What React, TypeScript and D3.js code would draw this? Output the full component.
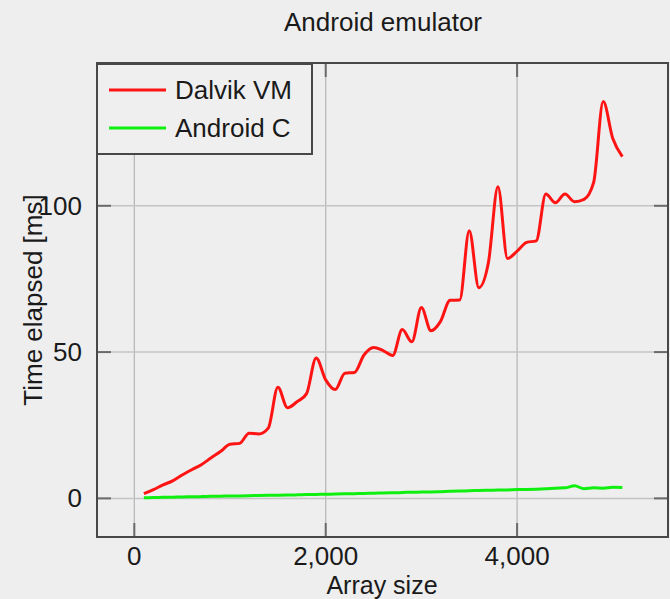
import React, { useRef, useEffect } from 'react';
import * as d3 from 'd3';

// array sizes (x) and timings in ms
const arraySizes = [
  100, 200, 300, 400, 500, 600, 700, 800, 900, 1000,
  1100, 1200, 1300, 1400, 1500, 1600, 1700, 1800, 1900, 2000,
  2100, 2200, 2300, 2400, 2500, 2600, 2700, 2800, 2900, 3000,
  3100, 3200, 3300, 3400, 3500, 3600, 3700, 3800, 3900, 4000,
  4100, 4200, 4300, 4400, 4500, 4600, 4700, 4800, 4900, 5000, 5100,
];

const dalvikVM = [
  1.6, 3.0, 4.6, 6.0, 8.0, 9.8, 11.5, 13.8, 16.0, 18.5,
  18.8, 22.3, 22.0, 24.0, 38.0, 31.0, 33.0, 35.8, 48.0, 40.5,
  37.2, 42.8, 43.0, 49.0, 51.6, 50.5, 48.8, 57.7, 53.5, 65.2,
  57.3, 60.5, 67.7, 67.8, 91.5, 72.0, 80.5, 106.5, 82.0, 84.5,
  87.5, 88.0, 104.0, 101.0, 104.0, 101.4, 102.2, 108.0, 135.6, 123.0, 116.8,
];

const androidC = [
  0.2, 0.3, 0.35, 0.4, 0.5, 0.55, 0.6, 0.7, 0.75, 0.8,
  0.85, 0.9, 1.0, 1.05, 1.1, 1.15, 1.2, 1.3, 1.35, 1.4,
  1.5, 1.55, 1.6, 1.7, 1.75, 1.85, 1.9, 2.0, 2.1, 2.15,
  2.2, 2.3, 2.4, 2.5, 2.6, 2.7, 2.75, 2.85, 2.9, 3.0,
  3.05, 3.15, 3.3, 3.5, 3.6, 4.3, 3.3, 3.6, 3.5, 3.8, 3.7,
];

const xTicks = [0, 2000, 4000];
const yTicks = [0, 50, 100];

const series = [
  { name: 'Dalvik VM', values: dalvikVM, color: '#ff1414' },
  { name: 'Android C', values: androidC, color: '#10f010' },
];

const W = 670;
const H = 599;
const FONT = '"Liberation Sans", Arial, Helvetica, sans-serif';

const App = () => {
  const ref = useRef<SVGSVGElement>(null);

  useEffect(() => {
    const svg = d3.select(ref.current);
    svg.selectAll('*').remove();

    const plot = { left: 97, right: 668, top: 63, bottom: 537 };

    const x = d3.scaleLinear().domain([-390, 5577]).range([plot.left, plot.right]);
    const y = d3.scaleLinear().domain([-13.2, 148.8]).range([plot.bottom, plot.top]);

    svg.append('rect')
      .attr('width', W)
      .attr('height', H)
      .attr('fill', '#eeeeee');

    // grid
    svg.append('g')
      .selectAll('line')
      .data(xTicks)
      .join('line')
      .attr('x1', d => x(d)).attr('x2', d => x(d))
      .attr('y1', plot.top).attr('y2', plot.bottom)
      .attr('stroke', '#b4b4b4')
      .attr('stroke-width', 1.2);

    svg.append('g')
      .selectAll('line')
      .data(yTicks)
      .join('line')
      .attr('x1', plot.left).attr('x2', plot.right)
      .attr('y1', d => y(d)).attr('y2', d => y(d))
      .attr('stroke', '#c4c4c4')
      .attr('stroke-width', 1.5);

    // inward ticks on all four sides
    const tickLen = 14;
    const ticks = svg.append('g').attr('stroke', '#6a6a6a').attr('stroke-width', 2);
    xTicks.forEach(t => {
      ticks.append('line').attr('x1', x(t)).attr('x2', x(t))
        .attr('y1', plot.bottom).attr('y2', plot.bottom - tickLen);
      ticks.append('line').attr('x1', x(t)).attr('x2', x(t))
        .attr('y1', plot.top).attr('y2', plot.top + tickLen);
    });
    yTicks.forEach(t => {
      ticks.append('line').attr('x1', plot.left).attr('x2', plot.left + tickLen)
        .attr('y1', y(t)).attr('y2', y(t));
      ticks.append('line').attr('x1', plot.right).attr('x2', plot.right - tickLen)
        .attr('y1', y(t)).attr('y2', y(t));
    });

    // lines
    const line = d3.line<number>()
      .x((_, i) => x(arraySizes[i]))
      .y(d => y(d))
      .curve(d3.curveMonotoneX);

    series.slice().reverse().forEach(s => {
      svg.append('path')
        .datum(s.values)
        .attr('fill', 'none')
        .attr('stroke', s.color)
        .attr('stroke-width', 3)
        .attr('stroke-linejoin', 'round')
        .attr('d', line);
    });

    // frame
    svg.append('rect')
      .attr('x', plot.left)
      .attr('y', plot.top)
      .attr('width', plot.right - plot.left)
      .attr('height', plot.bottom - plot.top)
      .attr('fill', 'none')
      .attr('stroke', '#484848')
      .attr('stroke-width', 2);

    // tick labels
    svg.append('g')
      .selectAll('text')
      .data(xTicks)
      .join('text')
      .attr('x', d => x(d))
      .attr('y', 565)
      .attr('text-anchor', 'middle')
      .text(d => d3.format(',')(d));

    svg.append('g')
      .selectAll('text')
      .data(yTicks)
      .join('text')
      .attr('x', 82)
      .attr('y', d => y(d))
      .attr('dy', '0.35em')
      .attr('text-anchor', 'end')
      .text(d => d3.format(',')(d));

    // titles
    svg.append('text')
      .attr('x', 383)
      .attr('y', 31)
      .attr('text-anchor', 'middle')
      .text('Android emulator');

    svg.append('text')
      .attr('class', 'xlabel')
      .attr('x', 382)
      .attr('y', 593.5)
      .attr('text-anchor', 'middle')
      .text('Array size');

    svg.append('text')
      .attr('transform', 'translate(42,300) rotate(-90)')
      .attr('text-anchor', 'middle')
      .text('Time elapsed [ms]');

    // legend
    const legend = svg.append('g');
    legend.append('rect')
      .attr('x', 97).attr('y', 64)
      .attr('width', 215).attr('height', 90)
      .attr('fill', '#efefef')
      .attr('stroke', '#484848')
      .attr('stroke-width', 2);

    series.forEach((s, i) => {
      const ly = 90 + i * 38;
      legend.append('line')
        .attr('x1', 109).attr('x2', 166)
        .attr('y1', ly).attr('y2', ly)
        .attr('stroke', s.color)
        .attr('stroke-width', 3);
      legend.append('text')
        .attr('x', 175)
        .attr('y', ly)
        .attr('dy', '0.35em')
        .text(s.name);
    });

    svg.selectAll('text')
      .attr('font-family', FONT)
      .attr('font-size', 26)
      .attr('fill', '#1a1a1a');
    svg.select('.xlabel').attr('font-size', 25);
  }, []);

  return (
    <svg
      ref={ref}
      width={W}
      height={H}
      style={{ position: 'absolute', left: 0, top: 0, display: 'block' }}
    ></svg>
  );
};

export default App;
